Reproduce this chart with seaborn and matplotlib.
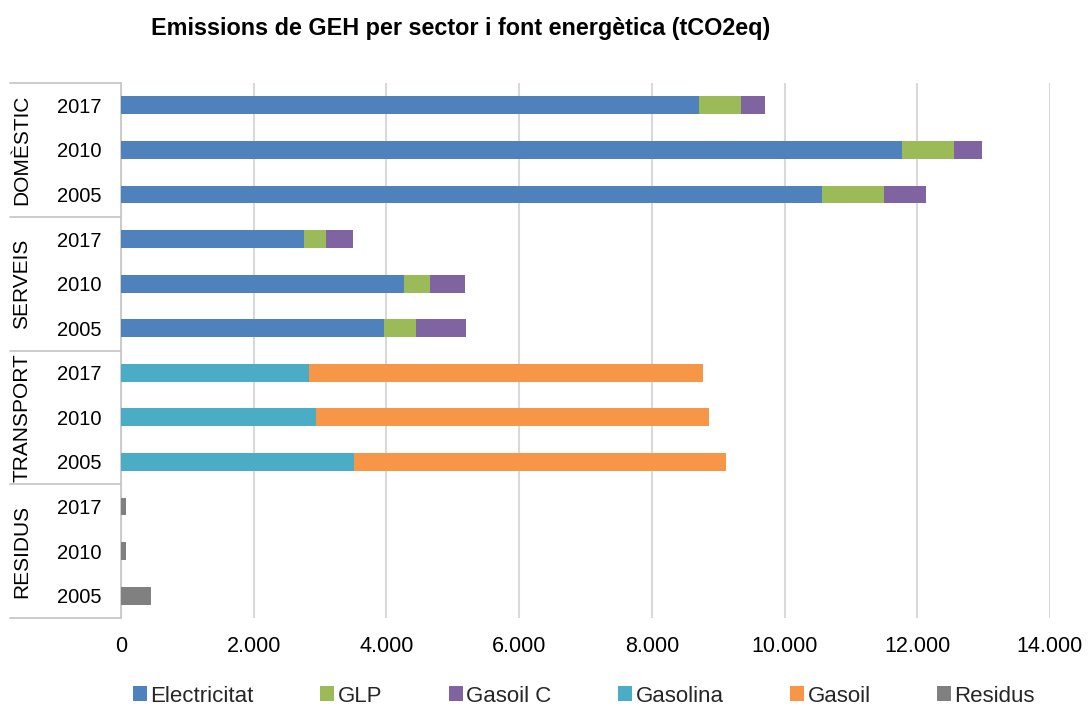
import numpy as np
import pandas as pd
import matplotlib
matplotlib.use("Agg")
import matplotlib.pyplot as plt
from matplotlib.patches import Patch
from matplotlib.ticker import FuncFormatter
import seaborn as sns

# Sectors and years (top to bottom)
sectors = ["DOMÈSTIC", "SERVEIS", "TRANSPORT", "RESIDUS"]
years = ["2017", "2010", "2005"]

# Emissions per energy source (tCO2eq), rows follow sectors x years
electricitat = [8710, 11770, 10560, 2760, 4260, 3960, 0, 0, 0, 0, 0, 0]
glp = [630, 785, 935, 330, 400, 490, 0, 0, 0, 0, 0, 0]
gasoil_c = [360, 425, 640, 400, 520, 755, 0, 0, 0, 0, 0, 0]
gasolina = [0, 0, 0, 0, 0, 0, 2835, 2940, 3510, 0, 0, 0]
gasoil = [0, 0, 0, 0, 0, 0, 5940, 5915, 5600, 0, 0, 0]
residus = [0, 0, 0, 0, 0, 0, 0, 0, 0, 80, 80, 450]

series_names = ["Electricitat", "GLP", "Gasoil C", "Gasolina", "Gasoil", "Residus"]
series_values = [electricitat, glp, gasoil_c, gasolina, gasoil, residus]
series_colors = ["#4F81BD", "#9BBB59", "#8064A2", "#4BACC6", "#F79646", "#808080"]

x_ticks = [0, 2000, 4000, 6000, 8000, 10000, 12000, 14000]

row_keys = [f"{s}|{y}" for s in sectors for y in years]
df = pd.DataFrame({"row": row_keys})
for name, vals in zip(series_names, series_values):
    df[name] = vals
cum = df[series_names].cumsum(axis=1)

sns.set_theme(style="white")
plt.rcParams["font.family"] = ["Liberation Sans", "DejaVu Sans"]

fig = plt.figure(figsize=(10.89, 7.06), dpi=100)
ax = fig.add_axes([121 / 1089, 1 - 618 / 706, 929 / 1089, 535 / 706])

# Stacked bars: draw the running totals from the outermost segment inwards
for name, color in reversed(list(zip(series_names, series_colors))):
    sns.barplot(
        data=pd.DataFrame({"row": row_keys, "total": cum[name].values}),
        x="total", y="row", order=row_keys, orient="h",
        color=color, saturation=1, width=0.4, errorbar=None, ax=ax,
        linewidth=0, zorder=3,
    )

ax.set_xlim(0, 14000)
ax.set_ylim(len(row_keys) - 0.5, -0.5)
ax.set_xticks(x_ticks)
ax.xaxis.set_major_formatter(FuncFormatter(lambda v, p: f"{int(v):,}".replace(",", ".")))
ax.set_yticks(range(len(row_keys)))
ax.set_yticklabels([k.split("|")[1] for k in row_keys])
ax.set_xlabel("")
ax.set_ylabel("")
ax.tick_params(axis="y", length=0, pad=14, labelsize=14.5, labelcolor="#000000")
ax.tick_params(axis="x", length=0, pad=13, labelsize=15.5, labelcolor="#000000")

ax.grid(axis="x", color="#D9D9D9", linewidth=1.5, zorder=0)
ax.grid(axis="y", visible=False)
for side in ["top", "right", "bottom"]:
    ax.spines[side].set_visible(False)
ax.spines["left"].set_color("#C8C8C8")
ax.spines["left"].set_linewidth(1.3)
ax.set_axisbelow(True)

# Sector group labels and separators
ytrans = ax.get_yaxis_transform()
x_left = (10 - 121) / 929
for i, s in enumerate(sectors):
    center = i * len(years) + (len(years) - 1) / 2
    ax.text((22 - 121) / 929, center, s, rotation=90, ha="center", va="center",
            fontsize=15, color="#000000", transform=ytrans, clip_on=False)
for b in np.arange(len(sectors) + 1) * len(years) - 0.5:
    ax.plot([x_left, 0], [b, b], transform=ytrans, color="#C8C8C8",
            linewidth=1.3, clip_on=False)

fig.text(461 / 1089, 1 - 28 / 706, "Emissions de GEH per sector i font energètica (tCO2eq)",
         ha="center", va="center", fontsize=16.8, fontweight="bold", color="#000000")

handles = [Patch(facecolor=c, edgecolor="none", label=n) for n, c in zip(series_names, series_colors)]
fig.legend(handles=handles, loc="center", bbox_to_anchor=(584 / 1089, 1 - 696 / 706),
           ncol=6, frameon=False, fontsize=16, handlelength=0.63, handleheight=0.63,
           handletextpad=0.15, columnspacing=3.0)

fig.savefig("out.png", dpi=100)
